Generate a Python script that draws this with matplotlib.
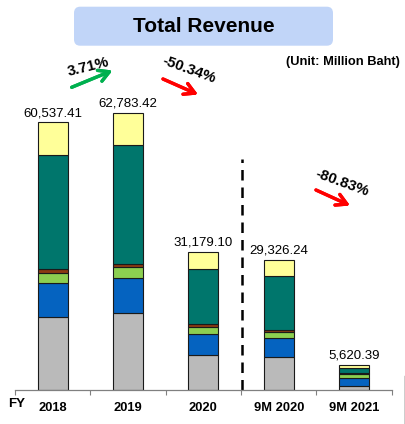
import matplotlib.pyplot as plt
from matplotlib.patches import FancyBboxPatch
from matplotlib.lines import Line2D

plt.rcParams['font.family'] = ['Liberation Sans', 'DejaVu Sans']

# data (million baht), stacked bottom to top
periods = ['2018', '2019', '2020', '9M 2020', '9M 2021']
totals = [60537.41, 62783.42, 31179.10, 29326.24, 5620.39]
seg_gray = [16550, 17365, 7935, 7550, 900]
seg_blue = [7640, 7935, 4760, 4150, 1800]
seg_green = [2270, 2425, 1660, 1360, 850]
seg_brown = [820, 840, 610, 610, 270]
seg_teal = [26000, 26890, 12310, 12015, 1150]
seg_yellow = [7257.41, 7328.42, 3904.10, 3641.24, 650.39]
changes = ['3.71%', '-50.34%', '-80.83%']

segments = [seg_gray, seg_blue, seg_green, seg_brown, seg_teal, seg_yellow]
colors = ['#bababa', '#0563c0', '#8ccf50', '#8b3a12', '#00766c', '#ffff99']

W, H = 406, 424
fig = plt.figure(figsize=(W / 100, H / 100), dpi=100)


def px(x, y):
    # pixel position (from top-left) -> figure fraction
    return x / W, 1 - y / H


ax = fig.add_axes([15 / W, (H - 390) / H, 376.7 / W, 350 / H])
x = list(range(len(periods)))
bottom = [0] * len(periods)
for vals, c in zip(segments, colors):
    ax.bar(x, vals, 0.4, bottom=bottom, color=c, edgecolor='#1a1a1a', linewidth=0.8)
    bottom = [b + v for b, v in zip(bottom, vals)]

for xi, t in zip(x, totals):
    ax.annotate(f'{t:,.2f}', (xi, t), xytext=(0, 2.5), textcoords='offset points',
                ha='center', va='bottom', fontsize=9.5)

ax.set_xlim(-0.5, 4.5)
ax.set_ylim(0, 79200)
ax.set_xticks(x)
ax.set_xticklabels(periods, fontsize=9.3, fontweight='bold')
ax.tick_params(axis='x', which='major', length=0, pad=8.5)
ax.set_xticks([i - 0.5 for i in range(len(periods) + 1)], minor=True)
ax.tick_params(axis='x', which='minor', length=3.5, color='#808080', width=0.8)
ax.set_yticks([])
for s in ['top', 'right', 'left']:
    ax.spines[s].set_visible(False)
ax.spines['bottom'].set_color('#808080')
ax.spines['bottom'].set_linewidth(0.9)

# divider between full-year and 9-month figures
ax.plot([2.51, 2.51], [0, 52300], color='black', linestyle=(0, (4.2, 2.8)), linewidth=1.8)

fig.text(*px(17, 404), 'FY', ha='center', va='center', fontsize=9.5, fontweight='bold')

# title box
bx, by = px(74, 45.7)
box = FancyBboxPatch((bx, by), 259 / W, 39 / H, boxstyle='round,pad=0,rounding_size=0.015',
                     transform=fig.transFigure, facecolor='#c1d5f8', edgecolor='none')
fig.patches.append(box)
fig.text(*px(203.5, 26.5), 'Total Revenue', ha='center', va='center', fontsize=15, fontweight='bold')
fig.text(*px(400, 61.5), '(Unit: Million Baht)', ha='right', va='center', fontsize=9.3, fontweight='bold')

# growth arrows
arrows = [((71.7, 87.3), (112.5, 70.5), '#00b04f'),
          ((163, 79), (198, 94.5), '#ff0000'),
          ((316, 190), (350, 205.5), '#ff0000')]
for (p0, p1, c) in arrows:
    fig.add_artist(plt.annotate('', xy=px(*p1), xytext=px(*p0), xycoords='figure fraction',
                                textcoords='figure fraction',
                                arrowprops=dict(arrowstyle='->,head_length=0.75,head_width=0.42',
                                                color=c, lw=2.4, shrinkA=0, shrinkB=0)))
label_pos = [((88, 66.5), 14), ((188.5, 70), -20), ((341.7, 183), -20)]
for txt, (pos, rot) in zip(changes, label_pos):
    fig.text(*px(*pos), txt, ha='center', va='center', rotation=rot, rotation_mode='anchor',
             fontsize=10.8, fontweight='bold')

fig.add_artist(Line2D([405 / W, 405 / W], [0, 1 - 376 / H], color='black', linewidth=1))

fig.savefig('out.png', dpi=100)
